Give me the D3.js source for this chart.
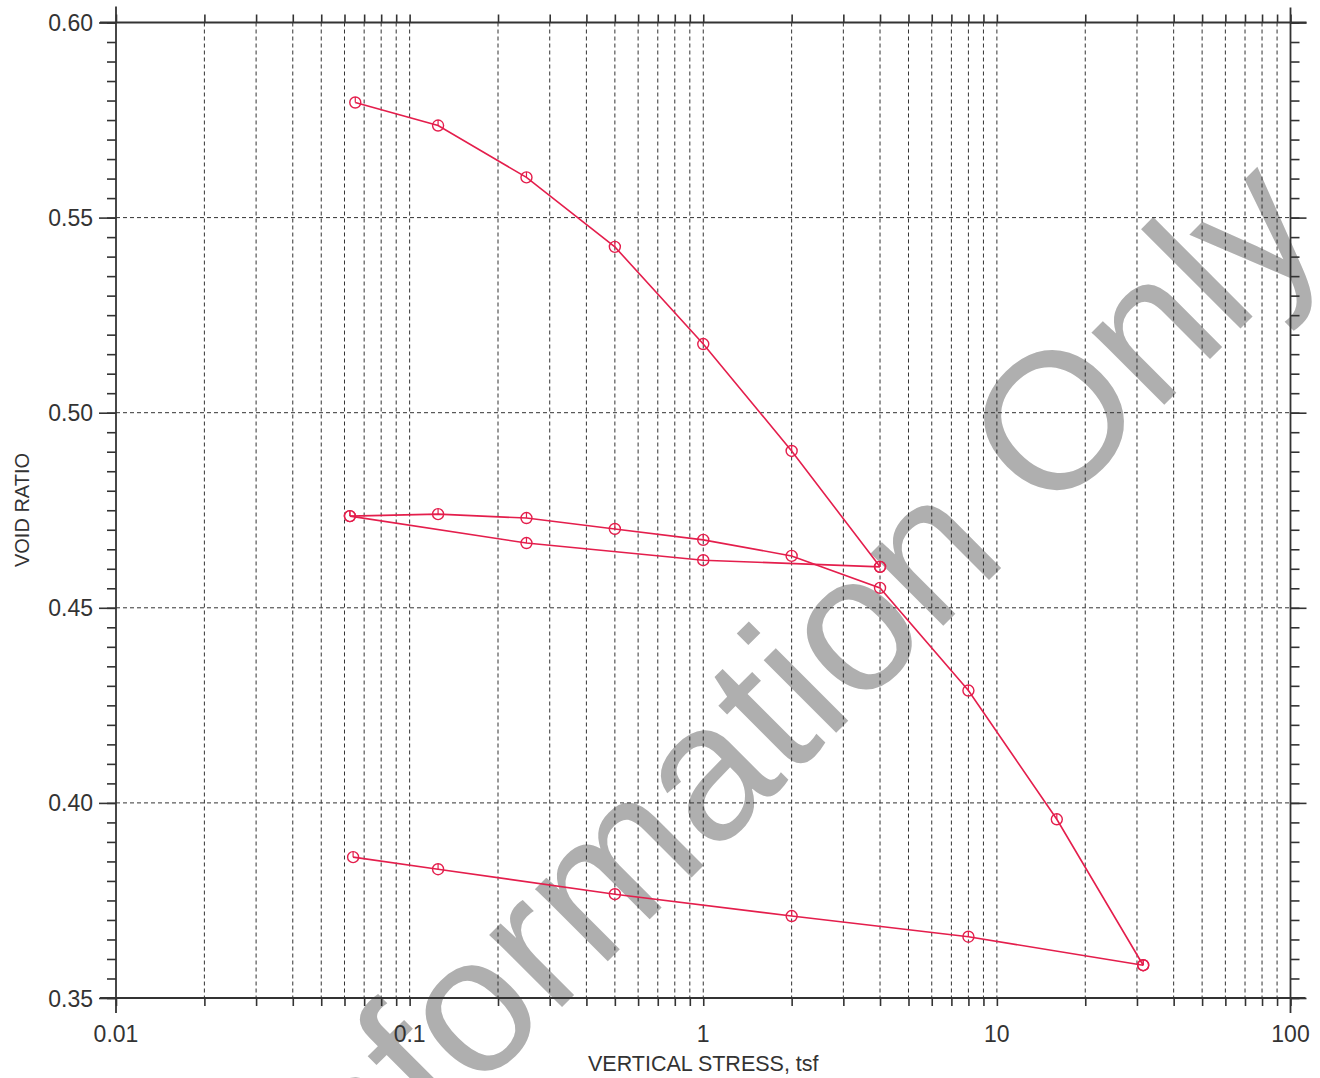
<!DOCTYPE html>
<html>
<head>
<meta charset="utf-8">
<script src="https://cdn.jsdelivr.net/npm/d3@7"></script>
<style>
  html, body { margin: 0; padding: 0; background: #fff; }
  svg { display: block; }
</style>
</head>
<body>
<svg id="chart" width="1320" height="1078"></svg>
<script>
// ---- data ----
const stressLoad1   = [0.0653, 0.125, 0.25, 0.5, 1, 2, 4];
const voidLoad1     = [0.5795, 0.5736, 0.5603, 0.5425, 0.5176, 0.4902, 0.4605];
const stressUnload1 = [4, 1, 0.25, 0.0626];
const voidUnload1   = [0.4605, 0.4622, 0.4666, 0.4735];
const stressReload  = [0.0626, 0.125, 0.25, 0.5, 1, 2, 4, 8, 16, 31.5];
const voidReload    = [0.4735, 0.4740, 0.4730, 0.4702, 0.4674, 0.4633, 0.4551, 0.4288, 0.3958, 0.3584];
const stressUnload2 = [31.5, 8, 2, 0.5, 0.125, 0.0642];
const voidUnload2   = [0.3584, 0.3657, 0.3710, 0.3766, 0.3830, 0.3861];

const xTickLabels = ["0.01", "0.1", "1", "10", "100"];
const yTickLabels = ["0.35", "0.40", "0.45", "0.50", "0.55", "0.60"];
const xTitle = "VERTICAL STRESS, tsf";
const yTitle = "VOID RATIO";
const watermark = "Information Only";

// ---- setup ----
const svg = d3.select("#chart");
const L = 116, R = 1290.5, T = 22.5, B = 998;
const x = d3.scaleLog().domain([0.01, 100]).range([L, R]);
const y = d3.scaleLinear().domain([0.35, 0.60]).range([B, T]);
const ink = "#333";
const red = "#e41e4c";

// watermark (behind everything)
svg.append("text")
  .attr("transform", "translate(827,742) rotate(-45)")
  .attr("text-anchor", "middle")
  .attr("font-family", "Liberation Sans, Arial, sans-serif")
  .attr("font-size", 194)
  .attr("fill", "#afafaf")
  .text(watermark);

// tick values
const xMinor = [];
for (let e = -2; e < 2; e++) for (let m = 1; m <= 9; m++) xMinor.push(m * Math.pow(10, e));
xMinor.push(100);
const yMajor = yTickLabels.map(Number);
const yMinor = d3.range(0, 51).map(i => +(0.35 + i * 0.005).toFixed(3));

// grid
const grid = svg.append("g").attr("stroke", ink).attr("stroke-width", 1).attr("stroke-dasharray", "4,3");
grid.selectAll("line.v").data(xMinor.filter(v => v > 0.0101 && v < 99)).join("line")
  .attr("class", "v")
  .attr("x1", d => x(d)).attr("x2", d => x(d)).attr("y1", T).attr("y2", B);
grid.selectAll("line.h").data(yMajor.filter(v => v > 0.351 && v < 0.599)).join("line")
  .attr("class", "h")
  .attr("x1", L).attr("x2", R).attr("y1", d => y(d)).attr("y2", d => y(d));

// axes ticks via d3 axes
function styleAxis(g) {
  g.select(".domain").remove();
  g.selectAll(".tick line").attr("stroke", ink).attr("stroke-width", 1.6);
  g.selectAll(".tick text").remove();
}
svg.append("g").attr("transform", `translate(0,${B})`)
  .call(d3.axisBottom(x).tickValues(xMinor).tickSize(8).tickFormat("")).call(styleAxis);
svg.append("g").attr("transform", `translate(0,${T})`)
  .call(d3.axisTop(x).tickValues(xMinor).tickSize(8).tickFormat("")).call(styleAxis);
svg.append("g").attr("transform", `translate(${L},0)`)
  .call(d3.axisLeft(y).tickValues(yMinor).tickSize(9).tickFormat("")).call(styleAxis);
svg.append("g").attr("transform", `translate(${R},0)`)
  .call(d3.axisRight(y).tickValues(yMinor).tickSize(9).tickFormat("")).call(styleAxis);
svg.append("g").attr("transform", `translate(${L},0)`)
  .call(d3.axisLeft(y).tickValues(yMajor).tickSize(17).tickFormat("")).call(styleAxis);
svg.append("g").attr("transform", `translate(${R},0)`)
  .call(d3.axisRight(y).tickValues(yMajor).tickSize(16).tickFormat("")).call(styleAxis);

// frame (extended lines)
const frame = svg.append("g").attr("stroke", ink).attr("stroke-width", 1.8);
frame.append("line").attr("x1", L - 16).attr("x2", R + 16).attr("y1", T).attr("y2", T);
frame.append("line").attr("x1", L - 16).attr("x2", R + 15).attr("y1", B).attr("y2", B);
frame.append("line").attr("x1", L).attr("x2", L).attr("y1", T - 16).attr("y2", B + 15);
frame.append("line").attr("x1", R).attr("x2", R).attr("y1", T - 15).attr("y2", B + 15);

// tick labels
const font = "Liberation Sans, Arial, Helvetica, sans-serif";
svg.append("g").selectAll("text").data(xTickLabels).join("text")
  .attr("x", d => x(+d)).attr("y", 1042)
  .attr("text-anchor", "middle").attr("font-family", font).attr("font-size", 23).attr("fill", ink)
  .text(d => d);
svg.append("g").selectAll("text").data(yTickLabels).join("text")
  .attr("x", 93).attr("y", d => y(+d) + 8.5)
  .attr("text-anchor", "end").attr("font-family", font).attr("font-size", 23).attr("fill", ink)
  .text(d => d);

// titles
svg.append("text").attr("x", x(1)).attr("y", 1071)
  .attr("text-anchor", "middle").attr("font-family", font).attr("font-size", 21.5).attr("fill", ink)
  .text(xTitle);
svg.append("text").attr("transform", "translate(29,510) rotate(-90)")
  .attr("text-anchor", "middle").attr("font-family", font).attr("font-size", 20).attr("fill", ink)
  .text(yTitle);

// series
const series = [
  [stressLoad1, voidLoad1],
  [stressUnload1, voidUnload1],
  [stressReload, voidReload],
  [stressUnload2, voidUnload2]
];
const line = d3.line().x(d => x(d[0])).y(d => y(d[1]));
const gS = svg.append("g");
series.forEach(([sx, sy]) => {
  const pts = sx.map((v, i) => [v, sy[i]]);
  gS.append("path").datum(pts).attr("d", line)
    .attr("fill", "none").attr("stroke", red).attr("stroke-width", 1.6);
  const m = gS.append("g").selectAll("g").data(pts).join("g")
    .attr("transform", d => `translate(${x(d[0])},${y(d[1])})`);
  m.append("circle").attr("r", 5.5).attr("fill", "none").attr("stroke", red).attr("stroke-width", 1.4);
  m.append("line").attr("x1", 0).attr("y1", 0).attr("x2", 0).attr("y2", -5.5)
    .attr("stroke", red).attr("stroke-width", 1.2);
});
</script>
</body>
</html>
